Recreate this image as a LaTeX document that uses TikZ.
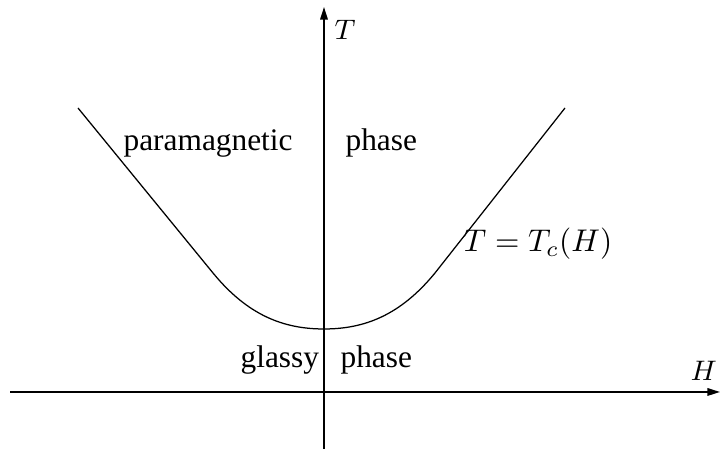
\documentclass[tikz,border=0pt]{standalone}
\usepackage{fontspec}
\setmainfont{Liberation Serif}
\usetikzlibrary{arrows.meta}
\begin{document}
\begin{tikzpicture}[x=0.3188pt,y=-0.3188pt,
  axis/.style={line width=0.5pt,-{Triangle[length=4pt,width=2.4pt]}},
  curve/.style={line width=0.4pt},
  lbl/.style={anchor=base west,inner sep=0pt,font=\fontsize{10}{12}\selectfont},
  axlbl/.style={anchor=base west,inner sep=0pt,font=\small}]
\useasboundingbox (0,0) rectangle (721,450);
% axes
\coordinate (hl) at (10,392);
\coordinate (hr) at (720,392);
\coordinate (vb) at (324,449);
\coordinate (vt) at (324,7);
\draw[axis] (hl) -- (hr);
\draw[axis] (vb) -- (vt);
\node[axlbl] (Tlab) at (334,40) {$T$};
\node[axlbl] (Hlab) at (690,381) {$H$};
% critical curve
\coordinate (L0) at (78,108);
\coordinate (L1) at (213,273);
\coordinate (M) at (324,329);
\coordinate (R1) at (435,273);
\coordinate (R0) at (565,108);
\draw[curve] (L0) -- (L1) .. controls (248,315.7) and (284,329) .. (M)
  .. controls (364,329) and (400,315.7) .. (R1) -- (R0);
% labels
\node[lbl] (para) at (123,151) {paramagnetic};
\node[lbl] (ph1) at (345,151) {phase};
\node[lbl] (tc) at (463,252) {$T=T_c(H)$};
\node[lbl] (gl) at (240,368) {glassy};
\node[lbl] (ph2) at (340,368) {phase};
\end{tikzpicture}
\end{document}
